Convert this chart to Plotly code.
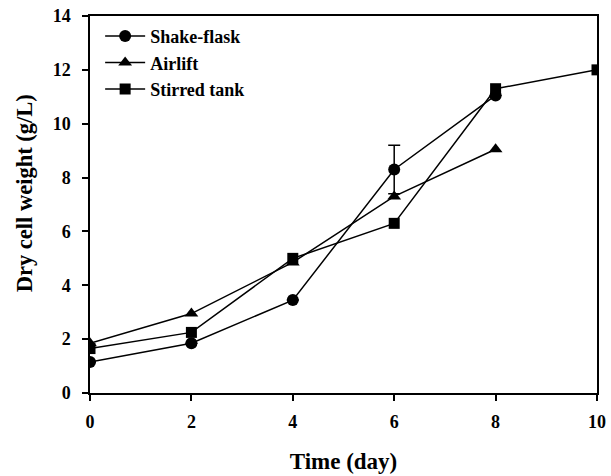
import plotly.graph_objects as go

days_sf = [0, 2, 4, 6, 8]
shake_flask = [1.15, 1.85, 3.45, 8.3, 11.05]
shake_flask_err = [0, 0, 0, 0.9, 0]

days_al = [0, 2, 4, 6, 8]
airlift = [1.85, 2.95, 4.85, 7.3, 9.05]

days_st = [0, 2, 4, 6, 8, 10]
stirred_tank = [1.65, 2.25, 5.0, 6.3, 11.3, 12.0]

x_ticks = [0, 2, 4, 6, 8, 10]
y_ticks = [0, 2, 4, 6, 8, 10, 12, 14]

font_family = "Liberation Serif, Times New Roman, serif"

fig = go.Figure()
fig.add_trace(go.Scatter(
    x=days_sf, y=shake_flask, name="<b>Shake-flask</b>", mode="lines+markers",
    line=dict(color="black", width=1.5),
    marker=dict(symbol="circle", size=12, color="black"),
    error_y=dict(type="data", array=shake_flask_err, visible=True,
                 color="black", thickness=1.5, width=6),
))
fig.add_trace(go.Scatter(
    x=days_al, y=airlift, name="<b>Airlift</b>", mode="lines+markers",
    line=dict(color="black", width=1.5),
    marker=dict(symbol="triangle-up", size=12, color="black"),
))
fig.add_trace(go.Scatter(
    x=days_st, y=stirred_tank, name="<b>Stirred tank</b>", mode="lines+markers",
    line=dict(color="black", width=1.5),
    marker=dict(symbol="square", size=11, color="black"),
))

axis_common = dict(
    showline=True, linecolor="black", linewidth=1.5, mirror=True,
    ticks="outside", ticklen=6, tickwidth=1.5, tickcolor="black",
    showgrid=False, zeroline=False, automargin=False,
    tickfont=dict(family=font_family, size=18, color="black"),
)

fig.update_xaxes(
    range=[0, 10], tickvals=x_ticks, ticktext=[f"<b>{v}</b>" for v in x_ticks],
    ticklabelstandoff=6,
    title=dict(text="<b>Time (day)</b>", font=dict(family=font_family, size=23, color="black"), standoff=22),
    **axis_common,
)
fig.update_yaxes(
    range=[0, 14], tickvals=y_ticks, ticktext=[f"<b>{v}</b>" for v in y_ticks],
    ticklabelstandoff=8,
    **axis_common,
)

fig.add_annotation(
    text="<b>Dry cell weight (g/L)</b>", xref="paper", yref="paper",
    x=-0.130, y=0.53, xanchor="center", yanchor="middle", textangle=-90,
    showarrow=False, font=dict(family=font_family, size=22.5, color="black"),
)

fig.update_layout(
    width=611, height=476,
    margin=dict(l=90, r=14, t=16, b=83),
    plot_bgcolor="white", paper_bgcolor="white",
    font=dict(family=font_family, color="black"),
    showlegend=True,
    legend=dict(x=0.02, y=0.995, xanchor="left", yanchor="top",
                font=dict(family=font_family, size=18, color="black"),
                bgcolor="rgba(0,0,0,0)", tracegroupgap=0, itemwidth=40),
)

fig.write_html("out.html", config={"displayModeBar": False},
               post_script="document.body.style.margin='0';document.body.style.overflow='hidden';")
